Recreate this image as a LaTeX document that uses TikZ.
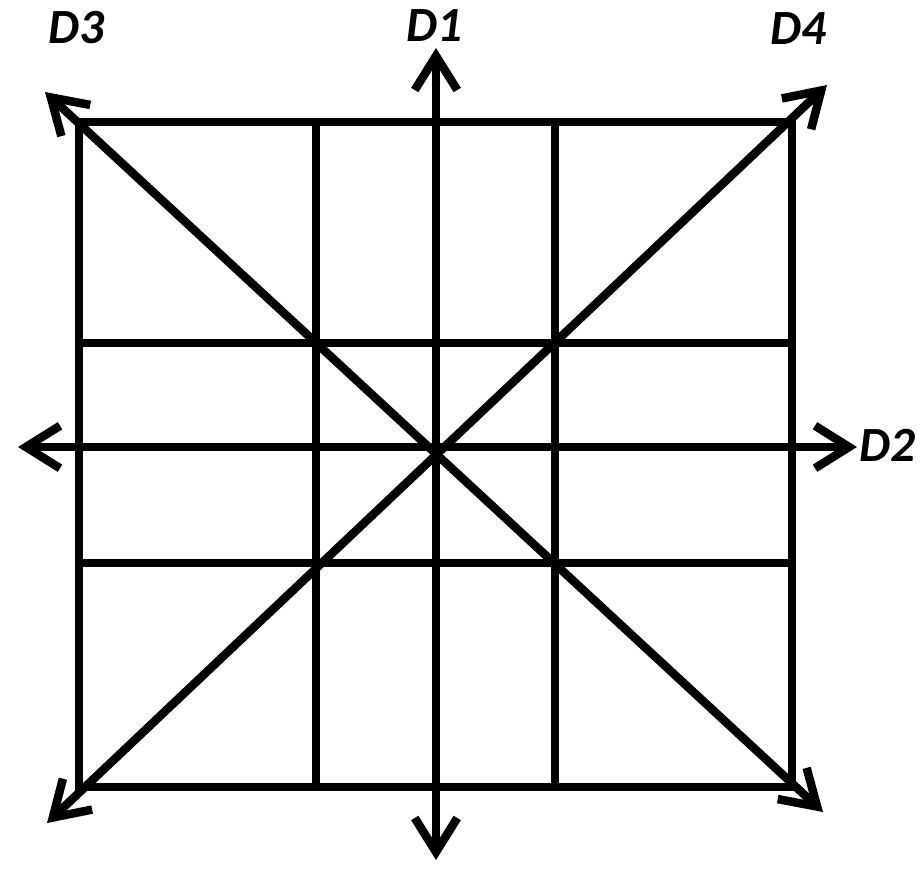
\documentclass[tikz,border=0pt]{standalone}
\usepackage{fontspec}
\setmainfont{Carlito}
\usetikzlibrary{arrows.meta}

\begin{document}
\begin{tikzpicture}[
    x=0.02cm, y=-0.02cm,
    gridline/.style={line width=0.17cm, line cap=rect},
    dirarrow/.style={line width=0.17cm, {Straight Barb[length=0.68cm,width=0.85cm]}-{Straight Barb[length=0.68cm,width=0.85cm]}},
    dirlabel/.style={font=\fontsize{28}{30}\selectfont\bfseries\itshape, inner sep=0pt}
]
    \useasboundingbox (0,0) rectangle (922,873);

    % Grid
    \draw[gridline] (79,122) rectangle (792,787);
    \foreach \x in {316,555}
        \draw[gridline] (\x,122) -- (\x,787);
    \foreach \y in {343,563}
        \draw[gridline] (79,\y) -- (792,\y);

    % Arrow ends
    \coordinate (d1top) at (436,48);
    \coordinate (d1bot) at (436,860);
    \coordinate (d2left) at (18,447);
    \coordinate (d2right) at (857,447);
    \coordinate (d3top) at (45,92);
    \coordinate (d3bot) at (823,812);
    \coordinate (d4top) at (827,85);
    \coordinate (d4bot) at (47,823);

    % Labels
    \node[dirlabel] (labD1) at (434,26) {D1};
    \node[dirlabel] (labD2) at (887,445) {D2};
    \node[dirlabel] (labD3) at (76,28) {D3};
    \node[dirlabel] (labD4) at (798,29) {D4};

    % Directions
    \draw[dirarrow] (d1bot) -- (d1top);
    \draw[dirarrow] (d2left) -- (d2right);
    \draw[dirarrow] (d3top) -- (d3bot);
    \draw[dirarrow] (d4bot) -- (d4top);
\end{tikzpicture}
\end{document}
